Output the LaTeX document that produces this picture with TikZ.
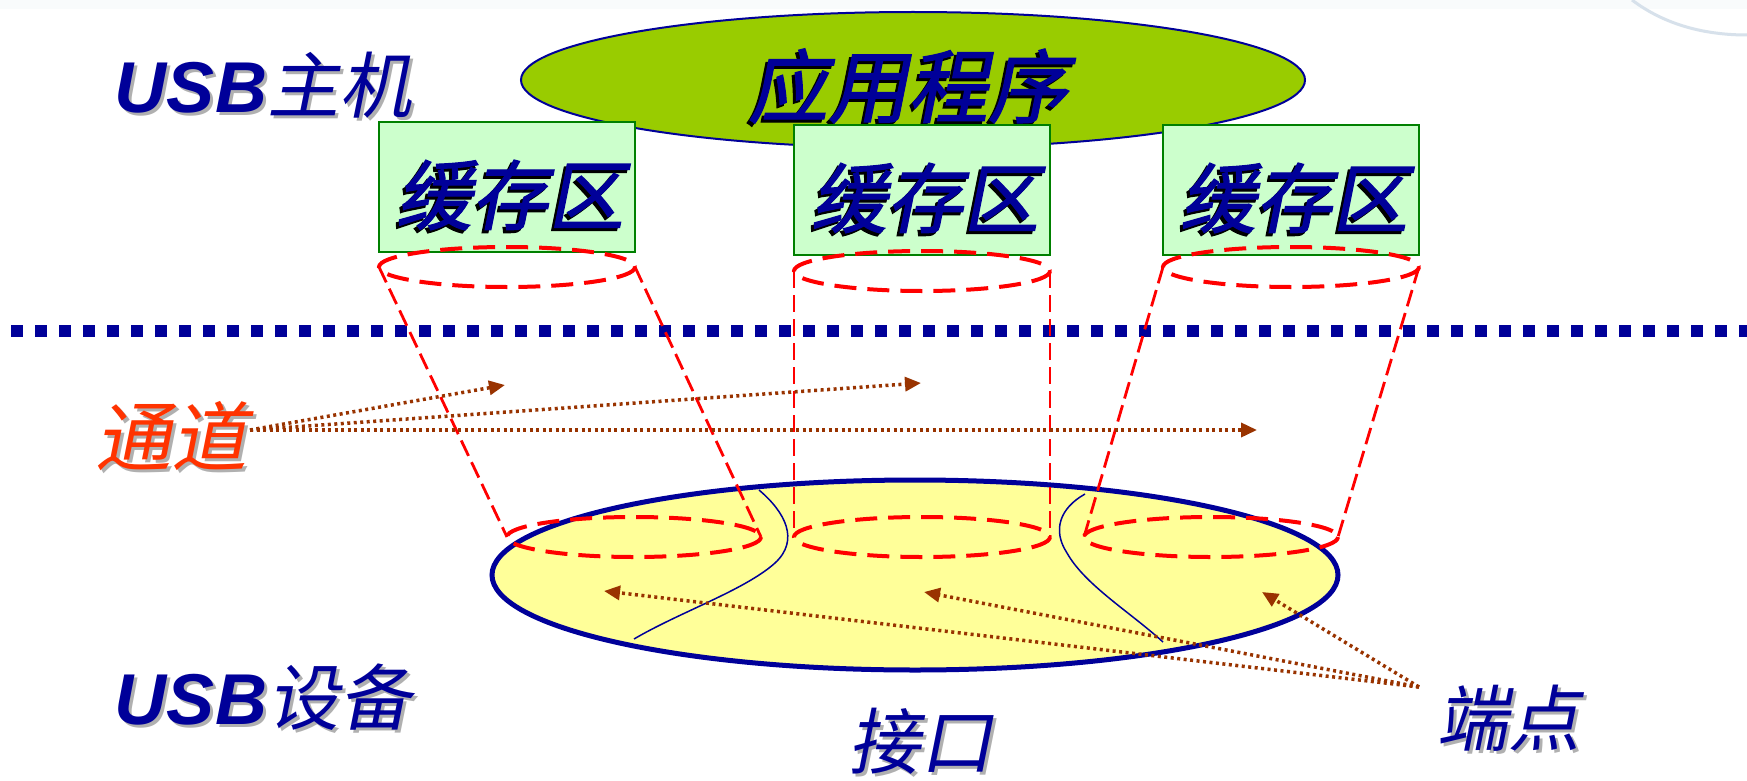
\documentclass[tikz,border=0pt]{standalone}
\usepackage{fontspec}
\setmainfont{Liberation Sans}
\newfontfamily\cjk[FakeSlant=0.2]{Noto Sans CJK SC}
\newfontfamily\cjkb[FakeSlant=0.2,FakeBold=1.5]{Noto Sans CJK SC}
\usetikzlibrary{shapes.geometric,arrows.meta,calc}
\definecolor{navy}{RGB}{0,0,153}
\definecolor{appgreen}{RGB}{153,204,0}
\definecolor{boxfill}{RGB}{204,255,204}
\definecolor{boxgreen}{RGB}{0,128,0}
\definecolor{ifyellow}{RGB}{255,255,153}
\definecolor{arrbrown}{RGB}{153,51,0}
\definecolor{pipered}{RGB}{255,0,0}
\definecolor{tdorange}{RGB}{255,51,0}
\definecolor{shgray}{RGB}{176,176,176}
\definecolor{arcblue}{RGB}{205,218,230}
\begin{document}
\begin{tikzpicture}[x=1pt,y=-1pt,
  lbl/.style={inner sep=0pt,text=navy,font=\fontsize{72}{80}\selectfont},
  lblsh/.style={lbl,text=shgray},
  buftext/.style={inner sep=0pt,text=navy,font=\fontsize{76}{84}\selectfont\cjkb},
  buftextsh/.style={buftext,text=black},
  bufbox/.style={draw=boxgreen,line width=2pt,fill=boxfill,minimum width=256pt,minimum height=129pt,inner sep=0pt},
  appell/.style={ellipse,draw=navy,line width=2pt,fill=appgreen,minimum width=784pt,minimum height=136pt,inner sep=0pt},
  ifell/.style={ellipse,draw=navy,line width=5pt,fill=ifyellow,minimum width=846pt,minimum height=190pt,inner sep=0pt},
  reddash/.style={draw=pipered,line width=4pt,dash pattern=on 22pt off 11pt},
  redside/.style={draw=pipered,line width=2.8pt,dash pattern=on 17pt off 7pt},
  bluedots/.style={draw=navy,line width=12pt,dash pattern=on 12pt off 12pt},
  brownarr/.style={draw=arrbrown,line width=3.5pt,dash pattern=on 3pt off 3.5pt,-{Triangle[length=16pt,width=14pt]}},
  thincurve/.style={draw=navy,line width=1.5pt}
]
\path[use as bounding box] (0,0) rectangle (1747,781);
\fill[white] (0,0) rectangle (1747,781);
\fill[arcblue!12] (0,0) rectangle (1747,9);
\draw[arcblue!80,line width=3pt] (1632,0) .. controls (1665,25) and (1705,35) .. (1747,35);

% application ellipse
\node[appell] (app) at (913,80) {};
\node[buftextsh,font=\fontsize{80}{88}\selectfont\cjkb] (appsh) at (905,89) {应用程序};
\node[buftext,font=\fontsize{80}{88}\selectfont\cjkb] (apptxt) at (908,86) {应用程序};

% buffers
\node[bufbox] (buf1) at (507,187) {};
\node[bufbox] (buf2) at (922,190) {};
\node[bufbox] (buf3) at (1291,190) {};
\node[buftextsh] (b1sh) at (507,198) {缓存区};
\node[buftext] (b1) at (510,195) {缓存区};
\node[buftextsh] (b2sh) at (922,201) {缓存区};
\node[buftext] (b2) at (925,198) {缓存区};
\node[buftextsh] (b3sh) at (1291,201) {缓存区};
\node[buftext] (b3) at (1294,198) {缓存区};

% top ellipses of pipes
\coordinate (t1) at (507,267);
\coordinate (t2) at (922,271);
\coordinate (t3) at (1291,267);
\draw[reddash] (t1) ellipse [x radius=128, y radius=20];
\draw[reddash] (t2) ellipse [x radius=128, y radius=20];
\draw[reddash] (t3) ellipse [x radius=128, y radius=20];

% interface ellipse
\node[ifell] (iface) at (915,575) {};

% host/device boundary
\coordinate (bl) at (11,331);
\coordinate (br) at (1747,331);
\draw[bluedots] (bl) -- (br);

% bottom ellipses
\coordinate (e1) at (634,537);
\coordinate (e2) at (922,537);
\coordinate (e3) at (1211,537);

% pipe sides
\draw[redside] ($(t1)+(-128,0)$) -- ($(e1)+(-127,0)$);
\draw[redside] ($(t1)+(128,0)$) -- ($(e1)+(127,0)$);
\draw[redside] ($(t2)+(-128,0)$) -- ($(e2)+(-128,0)$);
\draw[redside] ($(t2)+(128,0)$) -- ($(e2)+(128,0)$);
\draw[redside] ($(t3)+(-128,0)$) -- ($(e3)+(-127,0)$);
\draw[redside] ($(t3)+(128,0)$) -- ($(e3)+(127,0)$);

\draw[reddash] (e1) ellipse [x radius=127, y radius=20];
\draw[reddash] (e2) ellipse [x radius=128, y radius=20];
\draw[reddash] (e3) ellipse [x radius=127, y radius=20];

% thin separating curves
\draw[thincurve] (759,490) .. controls (785,512) and (800,540) .. (775,563) .. controls (745,590) and (680,612) .. (634,639);
\draw[thincurve] (1085,494) .. controls (1060,508) and (1052,530) .. (1067,553) .. controls (1085,585) and (1130,612) .. (1163,642);

% labels
\node[lblsh] (hostsh) at (266,88) {{\bfseries\itshape USB}{\cjk 主机}};
\node[lbl] (host) at (263,85) {{\bfseries\itshape USB}{\cjk 主机}};
\node[lblsh] (devsh) at (266,700) {{\bfseries\itshape USB}{\cjk 设备}};
\node[lbl] (dev) at (263,697) {{\bfseries\itshape USB}{\cjk 设备}};
\node[lblsh,font=\fontsize{76}{84}\selectfont\cjk] (tdsh) at (174,439) {通道};
\node[lbl,text=tdorange,font=\fontsize{76}{84}\selectfont\cjk] (td) at (171,436) {通道};
\node[lblsh,font=\fontsize{72}{80}\selectfont\cjk] (epsh) at (1511,721) {端点};
\node[lbl,font=\fontsize{72}{80}\selectfont\cjk] (ep) at (1508,718) {端点};
\node[lblsh,font=\fontsize{72}{80}\selectfont\cjk] (jksh) at (923,744) {接口};
\node[lbl,font=\fontsize{72}{80}\selectfont\cjk] (jk) at (920,741) {接口};

% pipe arrows
\coordinate (tdsrc) at (250,430);
\coordinate (p1) at (505,385);
\coordinate (p2) at (921,383);
\coordinate (p3) at (1257,430);
\draw[brownarr] (tdsrc) -- (p1);
\draw[brownarr] (tdsrc) -- (p2);
\draw[brownarr] (tdsrc) -- (p3);

% endpoint arrows
\coordinate (epsrc) at (1419,687);
\coordinate (q1) at (604,591);
\coordinate (q2) at (924,592);
\coordinate (q3) at (1262,592);
\draw[brownarr] (epsrc) -- (q1);
\draw[brownarr] (epsrc) -- (q2);
\draw[brownarr] (epsrc) -- (q3);
\end{tikzpicture}
\end{document}
